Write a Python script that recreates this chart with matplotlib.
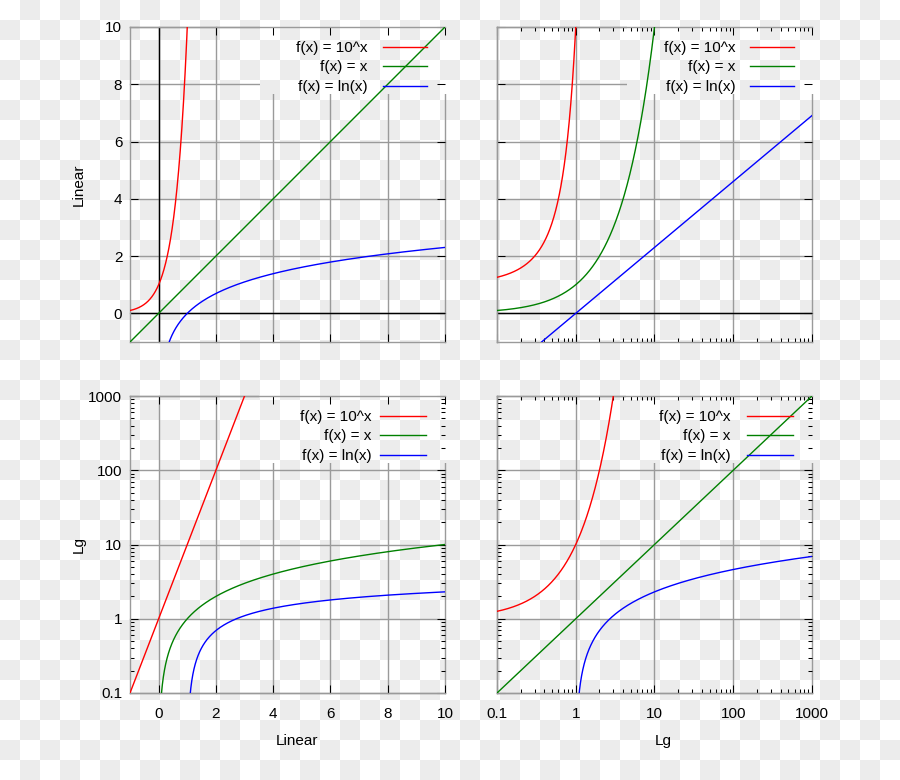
import numpy as np
import matplotlib
matplotlib.use("Agg")
import matplotlib.pyplot as plt
from matplotlib.path import Path
from matplotlib.ticker import FixedLocator, LogLocator, NullFormatter, NullLocator

plt.rcParams['font.family'] = ['Liberation Sans', 'DejaVu Sans']

# ---------------- data ----------------
series_labels = ["f(x) = 10^x", "f(x) = x", "f(x) = ln(x)"]
series_colors = ["#ff0000", "#008000", "#0000ff"]
linear_ticks = [0, 2, 4, 6, 8, 10]
linear_ticklabels = ["0", "2", "4", "6", "8", "10"]
log_ticks = [0.1, 1, 10, 100, 1000]
log_ticklabels = ["0.1", "1", "10", "100", "1000"]
linear_limits = [-1, 10]
log_limits = [0.1, 1000]
axis_titles = {"linear": "Linear", "log": "Lg"}

x_linear = np.linspace(-1, 10, 6001)
x_log = np.logspace(-1, 3, 6001)


def series_values(x):
    """The three functions named in the legend."""
    pos = np.where(x > 0, x, 1.0)
    return [10.0 ** np.minimum(x, 30.0),
            x,
            np.where(x > 0, np.log(pos), np.nan)]


# ---------------- figure ----------------
W, H = 900, 780
fig = plt.figure(figsize=(W / 100, H / 100), dpi=100)
fig.patch.set_facecolor("white")

# transparency checkerboard background (as in the reference picture)
yy, xx = np.mgrid[0:H, 0:W]
checker = ((xx // 20 + yy // 20) % 2).astype(float)
bg = 1.0 - checker[..., None] * (19 / 255) * np.ones((1, 1, 3))
fig.figimage(bg, xo=0, yo=0, zorder=-1, origin="upper")

GRID = "#9a9a9a"

# panel boxes in pixels: (left, top, right, bottom)
panels = [
    dict(box=(130, 27, 445, 342), xs="linear", ys="linear", xlab=False, ylab=True,
         hole=(0.413, 0.787), anchor=(0.943, 0.956), htp=1.0, hl=2.9),
    dict(box=(497, 27, 812, 342), xs="log", ys="linear", xlab=False, ylab=False,
         hole=(0.413, 0.787), anchor=(0.943, 0.956), htp=0.95, hl=2.9),
    dict(box=(130, 396, 445, 693), xs="linear", ys="log", xlab=True, ylab=True,
         hole=(0.41, 0.774), anchor=(0.940, 0.953), htp=0.5, hl=3.05),
    dict(box=(497, 396, 812, 693), xs="log", ys="log", xlab=True, ylab=False,
         hole=(0.41, 0.774), anchor=(0.940, 0.953), htp=1.1, hl=3.0),
]

for p in panels:
    l, t, r, b = p["box"]
    ax = fig.add_axes([l / W, 1 - b / H, (r - l) / W, (b - t) / H])
    ax.set_facecolor("none")
    ax.set_xscale(p["xs"])
    ax.set_yscale(p["ys"])
    ax.set_xlim(*(linear_limits if p["xs"] == "linear" else log_limits))
    ax.set_ylim(*(linear_limits if p["ys"] == "linear" else log_limits))

    xv = x_linear if p["xs"] == "linear" else x_log
    for yv, c, lab in zip(series_values(xv), series_colors, series_labels):
        ax.plot(xv, yv, color=c, lw=1.0, label=lab, zorder=3)

    # ticks
    for axis, sc in ((ax.xaxis, p["xs"]), (ax.yaxis, p["ys"])):
        if sc == "linear":
            axis.set_major_locator(FixedLocator(linear_ticks))
            axis.set_ticklabels(linear_ticklabels)
            axis.set_minor_locator(NullLocator())
        else:
            axis.set_major_locator(FixedLocator(log_ticks))
            axis.set_ticklabels(log_ticklabels)
            axis.set_minor_locator(LogLocator(base=10, subs=np.arange(2, 10), numticks=30))
            axis.set_minor_formatter(NullFormatter())

    ax.tick_params(which="both", direction="in", top=True, right=True,
                   color="black", width=0.75, labelsize=11)
    ax.tick_params(which="major", length=5.5)
    ax.tick_params(which="minor", length=3.2)
    ax.tick_params(axis="x", pad=10)
    ax.tick_params(axis="y", pad=5.5)
    ax.tick_params(labelbottom=p["xlab"], labelleft=p["ylab"])

    # grid lines, masked where the key sits
    hx, hy = p["hole"]
    e = 0.05
    ie = 0.04
    verts = [(-e, -e), (1 + e, -e), (1 + e, 1 + e), (-e, 1 + e), (-e, -e),
             (hx, hy), (hx, 1 + ie), (1 + ie, 1 + ie), (1 + ie, hy), (hx, hy)]
    codes = [Path.MOVETO, Path.LINETO, Path.LINETO, Path.LINETO, Path.CLOSEPOLY,
             Path.MOVETO, Path.LINETO, Path.LINETO, Path.LINETO, Path.CLOSEPOLY]
    hole_path = Path(verts, codes)
    xt = linear_ticks if p["xs"] == "linear" else log_ticks
    yt = linear_ticks if p["ys"] == "linear" else log_ticks
    for v in xt:
        ln = ax.axvline(v, color=GRID, lw=1.0, zorder=1)
        ln.set_clip_box(None)
        ln.set_clip_path(hole_path, ax.transAxes)
    for v in yt:
        ln = ax.axhline(v, color=GRID, lw=1.0, zorder=1)
        ln.set_clip_box(None)
        ln.set_clip_path(hole_path, ax.transAxes)

    # zero axes
    if p["ys"] == "linear":
        ax.axhline(0, color="black", lw=1.0, zorder=2)
    if p["xs"] == "linear" and p["ys"] == "linear":
        ax.axvline(0, color="black", lw=1.0, zorder=2)

    for s in ("left", "top", "bottom"):
        ax.spines[s].set_color(GRID)
        ax.spines[s].set_linewidth(1.0)
    ax.spines["right"].set_visible(False)

    ax.legend(loc="upper right", bbox_to_anchor=p["anchor"], frameon=False,
              fontsize=11, markerfirst=False, handlelength=p["hl"],
              handletextpad=p["htp"], labelspacing=0.36, borderpad=0,
              borderaxespad=0)

    if p["ylab"]:
        ax.set_ylabel(axis_titles[p["ys"]], fontsize=11)
        ax.yaxis.set_label_coords(-0.141, 0.5)
    if p["xlab"]:
        ax.set_xlabel(axis_titles[p["xs"]], fontsize=11)
        ax.xaxis.set_label_coords(0.529, -0.138)

fig.savefig("out.png", dpi=100)
